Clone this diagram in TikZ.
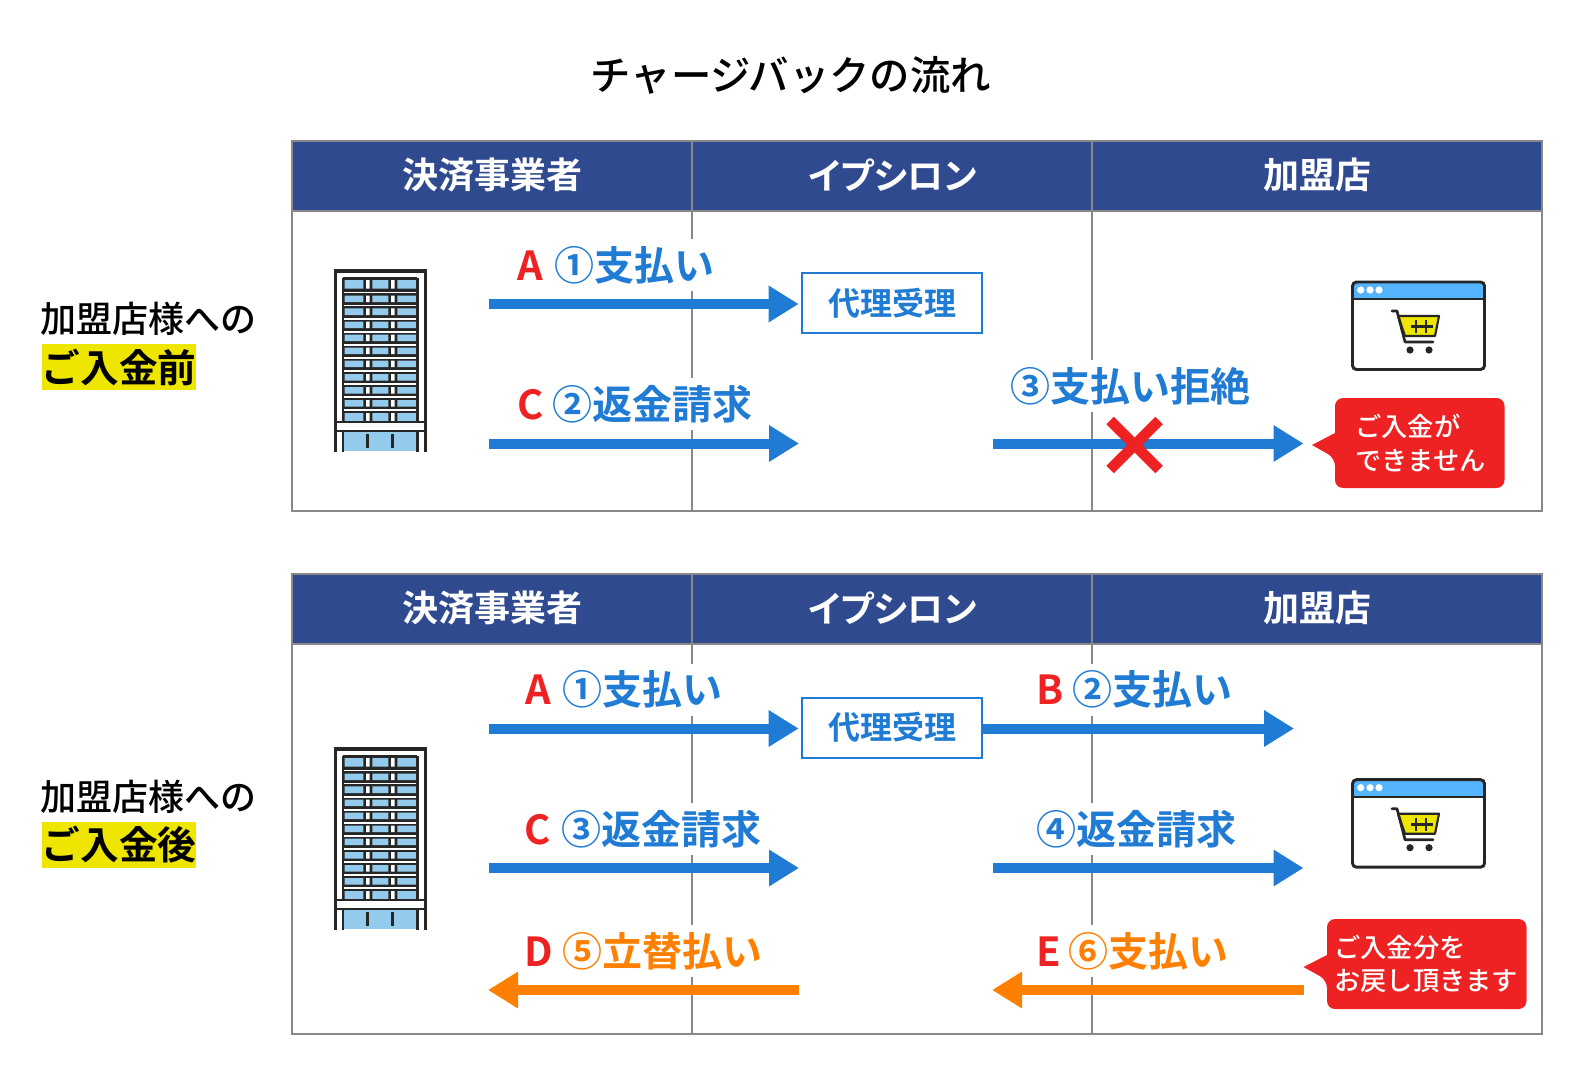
\documentclass[tikz,border=0pt]{standalone}
\usepackage{fontspec}
\usetikzlibrary{arrows.meta}
\newfontfamily\jpmed{Noto Sans CJK JP Medium}
\newfontfamily\jpbold{Noto Sans CJK JP Bold}
\newfontfamily\jpboldkana[RawFeature=+palt]{Noto Sans CJK JP Bold}
\definecolor{headblue}{HTML}{2F4A8E}
\definecolor{gridgray}{HTML}{888888}
\definecolor{flowblue}{HTML}{1F7BD3}
\definecolor{floworange}{HTML}{FF8000}
\definecolor{alertred}{HTML}{EE2222}
\definecolor{markyellow}{HTML}{EEE600}
\definecolor{glassblue}{HTML}{94CBEC}
\definecolor{barblue}{HTML}{55B4FF}
\definecolor{icondark}{HTML}{262626}
\tikzset{
 gridline/.style={draw=gridgray,line width=1.5pt},
 headtext/.style={text=white,inner sep=0pt,font=\jpbold\fontsize{27pt}{32pt}\selectfont},
 sidetext/.style={anchor=west,inner sep=0pt,font=\jpmed\fontsize{27pt}{32pt}\selectfont},
 sidemark/.style={fill=markyellow,inner sep=0pt,minimum width=115.5pt,minimum height=34.5pt,font=\jpbold\fontsize{29pt}{32pt}\selectfont},
 flowlabel/.style={anchor=west,fill=white,inner sep=0pt,minimum height=39pt,text=#1,font=\jpbold\fontsize{30pt}{36pt}\selectfont},
 flowarrow/.style={draw=#1,line width=7.5pt,-{Triangle[length=22.5pt,width=26pt]}},
 agentbox/.style={draw=flowblue,line width=1.5pt,fill=white,minimum width=135.5pt,minimum height=45pt,inner sep=0pt,text=flowblue,font=\jpbold\fontsize{24pt}{30pt}\selectfont},
 alerttext/.style={anchor=north west,align=left,inner sep=0pt,text=white,font=\jpmed\fontsize{19.7pt}{25pt}\selectfont},
 bldg/.pic={
  \fill[icondark] (343,278) rectangle (417,421.5);
  \foreach \t/\b in {280/288.7,295.7/302,308.3/315,321.7/328.2,334.7/341.2,347.7/354.2,360.7/367.2,374/380.5,387/393.5,400/406.5,413/421.7}{
   \fill[glassblue] (344.5,\t) rectangle (363.3,\b) (372.3,\t) rectangle (388.3,\b) (397.3,\t) rectangle (416.5,\b);
   \fill[white] (366,\t) rectangle (369.5,\b) (391,\t) rectangle (394.5,\b);
  }
  \foreach \t in {291.5,304.6,318,331,344,357,370.4,383.4,396.4,409.4}{
   \fill[white] (344,\t) rectangle (416,\t+1.5);
  }
  \fill[glassblue] (344,432) rectangle (417,451);
  \draw[icondark,line width=2.4pt] (335.3,452)--(335.3,271)--(425.3,271)--(425.3,452);
  \draw[icondark,line width=2pt] (343,278)--(343,422) (343,431)--(343,452) (417.3,278)--(417.3,422) (417.3,431)--(417.3,452) (343,278)--(417.3,278);
  \draw[icondark,line width=2pt] (336,422)--(425,422) (336,431)--(425,431) (367.7,434)--(367.7,448) (392.7,434)--(392.7,448);
 },
 shopicon/.pic={
  \fill[barblue] (1353,283) rectangle (1483.5,298);
  \draw[icondark,line width=2.2pt,rounded corners=3pt] (1352.5,282)rectangle(1484.5,369.5);
  \draw[icondark,line width=1.8pt] (1352.5,299)--(1484.5,299);
  \foreach \dx in {1360.7,1370,1379}{\fill[white] (\dx,290) circle[radius=3.6];}
  \draw[icondark,line width=1.6pt,fill=markyellow,line join=round] (1398,316)--(1439,316)--(1435,336)--(1405,336)--cycle;
  \draw[icondark,line width=2pt,line cap=round,line join=round] (1392,311)--(1397,311)--(1405,342)--(1433,342);
  \draw[icondark,line width=2.2pt] (1411,326.7)--(1433,326.7) (1416,320)--(1416,333) (1426,320)--(1426,333);
  \fill[icondark] (1410,350) circle[radius=3.6] (1429,350) circle[radius=3.6];
 }
}
\begin{document}
\begin{tikzpicture}[x=0.75pt,y=-0.75pt]
\useasboundingbox (0,0) rectangle (1580,1074);
\node[inner sep=0pt,font=\jpmed\fontsize{30.3pt}{36pt}\selectfont] (title) at (791,75) {チャージバックの流れ};
\foreach \n/\ptop/\pbot in {1/141/511,2/574/1034}{
 \fill[headblue] (292,\ptop) rectangle (1542,\ptop+70);
 \draw[gridline] (292,\ptop) rectangle (1542,\pbot) (292,\ptop+70)--(1542,\ptop+70) (692,\ptop)--(692,\pbot) (1092,\ptop)--(1092,\pbot);
 \node[headtext] (payer\n) at (492,\ptop+34) {決済事業者};
 \node[headtext,font=\jpboldkana\fontsize{27pt}{32pt}\selectfont] (epsilon\n) at (893,\ptop+34) {イプシロン};
 \node[headtext] (shop\n) at (1317,\ptop+34) {加盟店};
}
\node[sidetext] (before) at (40,319) {加盟店様への};
\node[sidemark] (beforemark) at (119,367) {ご入金前};
\node[sidetext] (after) at (40,797) {加盟店様への};
\node[sidemark] (aftermark) at (119,845) {ご入金後};
\pic at (0,0) {bldg};
\pic at (0,478) {bldg};
\pic at (0,0) {shopicon};
\pic at (0,497.7) {shopicon};
% upper panel
\coordinate (a1from) at (488.5,304);
\coordinate (c1from) at (488.5,443.5);
\coordinate (c1to) at (799,443.5);
\coordinate (r1from) at (992.5,443.5);
\coordinate (r1to) at (1303.5,443.5);
\node[agentbox] (agent1) at (892,303) {代理受理};
\draw[flowarrow=flowblue,shorten >=1.5pt] (a1from)--(a1from -| agent1.west);
\draw[flowarrow=flowblue] (c1from)--(c1to);
\draw[flowarrow=flowblue] (r1from)--(r1to);
\node[flowlabel=flowblue] (a1label) at (517,265) {\textcolor{alertred}{A}\hspace{8.5pt}①支払い};
\node[flowlabel=flowblue] (c1label) at (517,404) {\textcolor{alertred}{C}\hspace{7pt}②返金請求};
\node[flowlabel=flowblue] (r1label) at (1010,386) {③支払い拒絶};
\coordinate (cross) at (1134.6,445);
\draw[alertred,line width=8pt] ([shift={(-24.5,-24.5)}]cross)--([shift={(24.5,24.5)}]cross) ([shift={(24.5,-24.5)}]cross)--([shift={(-24.5,24.5)}]cross);
\fill[alertred,rounded corners=6pt] (1335,398)--(1504.5,398)--(1504.5,488)--(1335,488)--(1335,458)[sharp corners]--(1312,445)--(1335,433)[rounded corners=6pt]--cycle;
\node[alerttext] (alert1) at (1355,414) {ご入金が\\できません};
% lower panel
\coordinate (a2from) at (488.5,728.5);
\coordinate (b2to) at (1294,728.5);
\coordinate (c2from) at (488.5,868);
\coordinate (c2to) at (799,868);
\coordinate (n2from) at (992.5,868);
\coordinate (n2to) at (1303.5,868);
\coordinate (d2from) at (799,990);
\coordinate (d2to) at (488,990);
\coordinate (e2from) at (1303.5,990);
\coordinate (e2to) at (992,990);
\node[agentbox] (agent2) at (892,727.5) {代理受理};
\draw[flowarrow=flowblue,shorten >=1.5pt] (a2from)--(a2from -| agent2.west);
\draw[flowarrow=flowblue] (a2from -| agent2.east)--(b2to);
\draw[flowarrow=flowblue] (c2from)--(c2to);
\draw[flowarrow=flowblue] (n2from)--(n2to);
\draw[flowarrow=floworange] (d2from)--(d2to);
\draw[flowarrow=floworange] (e2from)--(e2to);
\node[flowlabel=flowblue] (a2label) at (525,689.5) {\textcolor{alertred}{A}\hspace{8.5pt}①支払い};
\node[flowlabel=flowblue] (b2label) at (1036,689.5) {\textcolor{alertred}{B}\hspace{7pt}②支払い};
\node[flowlabel=flowblue] (c2label) at (524,829) {\textcolor{alertred}{C}\hspace{8pt}③返金請求};
\node[flowlabel=flowblue] (n2label) at (1036,829) {④返金請求};
\node[flowlabel=floworange] (d2label) at (524,951) {\textcolor{alertred}{D}\hspace{7pt}⑤立替払い};
\node[flowlabel=floworange] (e2label) at (1036,951) {\textcolor{alertred}{E}\hspace{6pt}⑥支払い};
\fill[alertred,rounded corners=6pt] (1327,919)--(1526.5,919)--(1526.5,1009)--(1327,1009)--(1327,980)[sharp corners]--(1303.5,967)--(1327,955)[rounded corners=6pt]--cycle;
\node[alerttext] (alert2) at (1334,935) {ご入金分を\\お戻し頂きます};
\end{tikzpicture}
\end{document}
